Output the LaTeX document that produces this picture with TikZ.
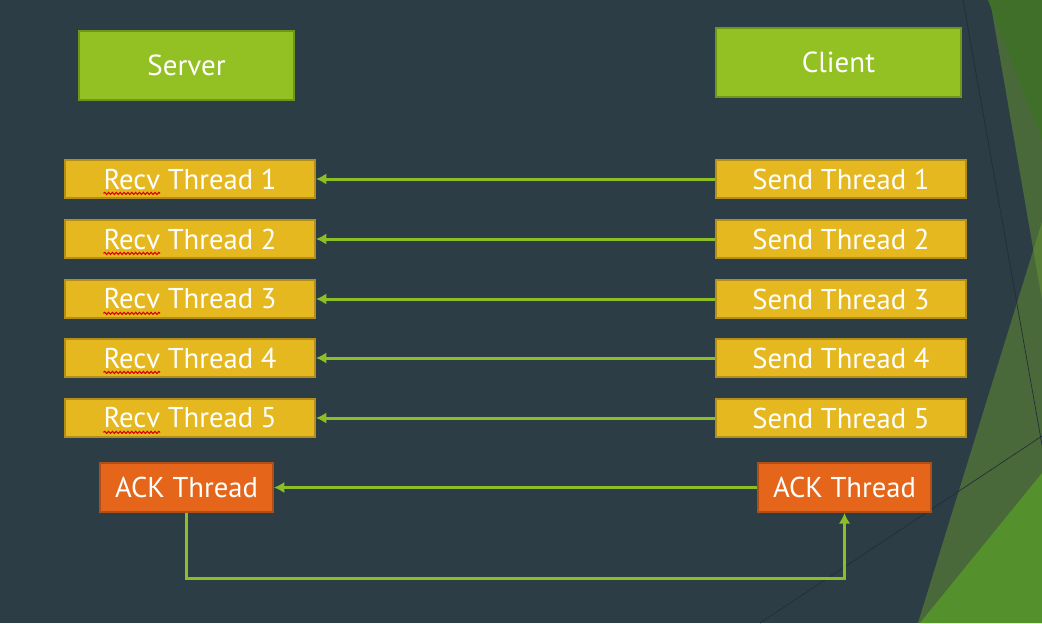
\documentclass[tikz,border=0pt]{standalone}
\usepackage{fontspec}
\setmainfont{PT Sans}
\usepackage{tikz}
\usetikzlibrary{arrows.meta, positioning, decorations.pathmorphing}
\definecolor{slide}{HTML}{2C3D45}
\definecolor{hostfill}{HTML}{93C022}
\definecolor{hostline}{HTML}{6F961C}
\definecolor{threadfill}{HTML}{E5B820}
\definecolor{threadline}{HTML}{B28F1A}
\definecolor{ackfill}{HTML}{E5661A}
\definecolor{ackline}{HTML}{B04E18}
\definecolor{linkgreen}{HTML}{8CBF26}
\definecolor{facetmid}{HTML}{689632}
\definecolor{facetdark}{HTML}{3F6F28}
\definecolor{facetlight}{HTML}{54902B}
\definecolor{facetline}{HTML}{222F36}
\tikzset{
	hostbox/.style={draw=hostline, fill=hostfill, line width=1.1pt, text=white,
		minimum height=1.38cm, font=\fontsize{16.5}{18}\selectfont},
	threadbox/.style={draw=threadline, fill=threadfill, line width=1.1pt, text=white,
		minimum width=5cm, minimum height=0.76cm, inner sep=0pt, font=\fontsize{16.3}{18}\selectfont},
	ackbox/.style={draw=ackline, fill=ackfill, line width=1.1pt, text=white,
		minimum width=3.46cm, minimum height=0.98cm, inner sep=0pt, font=\fontsize{16.3}{18}\selectfont},
	link/.style={draw=linkgreen, line width=1.7pt, -{Latex[length=6pt,width=6.5pt]}},
	squiggle/.style={draw=red!85!black, line width=0.6pt, decorate,
		decoration={snake, segment length=2.2pt, amplitude=0.6pt}}
}
\newlength{\recvw}
\newcommand{\threadrow}[2]{
	\node[threadbox] (recv#1) at (190,#2) {Recv Thread #1};
	\node[threadbox] (send#1) at (841,#2) {Send Thread #1};
	\draw[link] (send#1) -- (recv#1);
	\draw[squiggle] ([yshift=-2.5pt]recv#1.text) -- ++(\recvw,0);
}

\begin{document}
\settowidth{\recvw}{\fontsize{16.3}{18}\selectfont Recv}%
\begin{tikzpicture}[x=0.02cm, y=-0.02cm]
	\fill[slide] (0,0) rectangle (1042,623);
	\useasboundingbox (0,0) rectangle (1042,623);
	% facets on the right edge
	\fill[facetmid, opacity=0.5] (990,0) -- (1042,0) -- (1042,300) -- cycle;
	\fill[facetmid, opacity=0.5] (1042,222) -- (918,623) -- (1042,623) -- cycle;
	\fill[facetdark] (988,0) -- (1042,0) -- (1042,140) -- cycle;
	\fill[facetlight] (1042,473) -- (920,623) -- (1042,623) -- cycle;
	\draw[facetline, line width=0.4pt] (963,0) -- (1042,445);
	\draw[facetline, line width=0.4pt] (760,623) -- (1042,436);
	% hosts
	\node[hostbox, minimum width=4.3cm] (server) at (186.5,65.5) {Server};
	\node[hostbox, minimum width=4.9cm] (client) at (838.5,62.5) {Client};
	% data threads
	\threadrow{1}{179}
	\threadrow{2}{239}
	\threadrow{3}{299}
	\threadrow{4}{358}
	\threadrow{5}{418}
	% ack threads
	\node[ackbox] (ackS) at (186.5,487.5) {ACK Thread};
	\node[ackbox] (ackC) at (844.5,487.5) {ACK Thread};
	\coordinate (bottom) at (0,578);
	\draw[link] (ackC) -- (ackS);
	\draw[link] (ackS.south) -- (ackS.south |- bottom) -| (ackC.south);
\end{tikzpicture}
\end{document}
